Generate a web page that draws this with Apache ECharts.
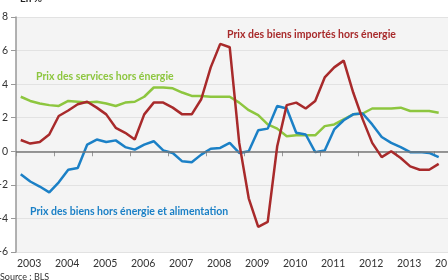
<!DOCTYPE html>
<html>
<head>
<meta charset="utf-8">
<script src="https://cdn.jsdelivr.net/npm/echarts@6/dist/echarts.min.js"></script>
<style>
  html, body { margin: 0; padding: 0; background: #fff; }
  #chart { width: 448px; height: 280px; }
</style>
</head>
<body>
<div id="chart"></div>
<script>
// trimestres 2003T1 -> 2014T1
var trimestres = [];
for (var a = 2003; a <= 2014; a++) {
  for (var q = 1; q <= 4; q++) {
    if (trimestres.length < 45) trimestres.push(a + "T" + q);
  }
}
var yTicks = [-6, -4, -2, 0, 2, 4, 6, 8];

// Prix des biens importés hors énergie
var importes = [0.67, 0.46, 0.55, 1.0, 2.1, 2.43, 2.8, 2.95, 2.6, 2.2, 1.4, 1.1, 0.7,
  2.2, 2.9, 2.9, 2.6, 2.2, 2.2, 3.1, 5.0, 6.4, 6.2, 0.5, -2.8, -4.5, -4.2, 0.3,
  2.75, 2.9, 2.55, 3.0, 4.4, 5.0, 5.4, 3.5, 1.9, 0.5, -0.35, 0.0, -0.4, -0.9,
  -1.1, -1.1, -0.75];
// Prix des services hors énergie
var services = [3.25, 3.0, 2.85, 2.75, 2.7, 3.0, 2.95, 2.9, 2.95, 2.85, 2.7, 2.9, 2.95,
  3.25, 3.8, 3.8, 3.75, 3.5, 3.3, 3.3, 3.25, 3.25, 3.25, 2.9, 2.45, 2.15, 1.6, 1.35,
  0.9, 0.95, 0.95, 0.95, 1.5, 1.6, 1.9, 2.2, 2.25, 2.55, 2.55, 2.55, 2.6, 2.4,
  2.4, 2.4, 2.3];
// Prix des biens hors énergie et alimentation
var biens = [-1.37, -1.8, -2.1, -2.45, -1.85, -1.1, -1.0, 0.4, 0.7, 0.55, 0.65, 0.25, 0.1,
  0.4, 0.6, 0.05, -0.1, -0.6, -0.65, -0.2, 0.15, 0.2, 0.5, -0.1, 0.0, 1.25, 1.35, 2.7,
  2.55, 1.1, 1.0, -0.05, 0.05, 1.3, 1.85, 2.2, 2.25, 1.6, 0.85, 0.5, 0.25, -0.05,
  -0.05, -0.1, -0.35];

// position des trimestres au milieu de chaque trimestre
function xpos(t) {
  var a = parseInt(t.slice(0, 4), 10);
  var q = parseInt(t.slice(5), 10);
  return a + (q - 1) * 0.25 + 0.125;
}
function serie(vals) {
  return trimestres.map(function (t, i) { return [xpos(t), vals[i]]; });
}

var myChart = echarts.init(document.getElementById("chart"));
var txtFont = "Lato";
myChart.setOption({
  animation: false,
  backgroundColor: "#fff",
  grid: {
    left: 16, right: 0, top: 17, bottom: 28,
    containLabel: false, outerBoundsMode: "none",
    show: true, backgroundColor: "#f4f4f4", borderWidth: 0
  },
  xAxis: {
    type: "value",
    min: 2003, max: 2014.37, interval: 1,
    axisLine: { show: false },
    axisTick: { show: true, length: 5, lineStyle: { color: "#999" } },
    splitLine: { show: false },
    axisLabel: {
      align: "left", margin: 6, padding: [0, 0, 0, 1],
      color: "#333", fontSize: 10.5, fontFamily: txtFont,
      formatter: function (v) { return String(Math.round(v)); }
    }
  },
  yAxis: {
    type: "value",
    min: yTicks[0], max: yTicks[yTicks.length - 1], interval: 2,
    axisLine: { show: true, lineStyle: { color: "#999", width: 1.5 } },
    axisTick: { show: true, length: 5, lineStyle: { color: "#999" } },
    splitLine: { show: true, lineStyle: { color: "#e2e2e2", width: 1 } },
    axisLabel: { margin: 8, color: "#333", fontSize: 10.5, fontFamily: txtFont }
  },
  series: [
    {
      type: "line", data: [], silent: true, z: 1,
      markLine: {
        silent: true, symbol: "none", label: { show: false },
        lineStyle: { color: "#777", width: 1.5, type: "solid" },
        data: [{ yAxis: 0 }]
      }
    },
    {
      name: "Prix des services hors énergie", type: "line", z: 3,
      data: serie(services), showSymbol: false,
      lineStyle: { color: "#8dc63f", width: 2.5 }
    },
    {
      name: "Prix des biens hors énergie et alimentation", type: "line", z: 4,
      data: serie(biens), showSymbol: false,
      lineStyle: { color: "#1b80c6", width: 2.5 }
    },
    {
      name: "Prix des biens importés hors énergie", type: "line", z: 5,
      data: serie(importes), showSymbol: false,
      lineStyle: { color: "#a82a2b", width: 2.5 }
    }
  ],
  graphic: [
    { type: "text", left: 20, top: -6, style: { text: "En %", fill: "#222", font: "bold 10px Lato" } },
    { type: "text", left: 0, top: 273, style: { text: "Source : BLS", fill: "#333", font: "9px Lato" } },
    { type: "text", left: 227, top: 29, style: { text: "Prix des biens importés hors énergie", fill: "#a82a2b", font: "bold 10.5px Lato" } },
    { type: "text", left: 36, top: 71, style: { text: "Prix des services hors énergie", fill: "#8dc63f", font: "bold 10.5px Lato" } },
    { type: "text", left: 30, top: 206, style: { text: "Prix des biens hors énergie et alimentation", fill: "#1b80c6", font: "bold 10.5px Lato" } }
  ]
});
</script>
</body>
</html>
